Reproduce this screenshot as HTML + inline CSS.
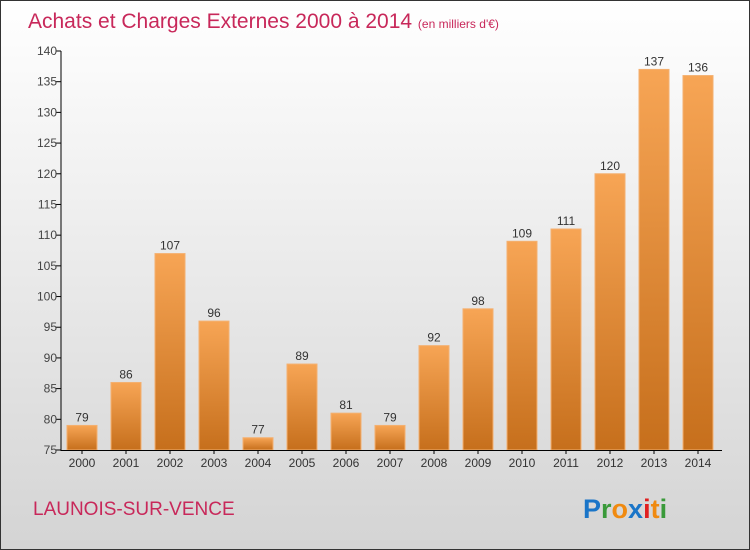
<!DOCTYPE html>
<html><head><meta charset="utf-8"><style>
body{margin:0}
#c{position:relative;width:748px;height:548px;border:1px solid #333;background:linear-gradient(#ffffff,#d4d4d4);font-family:"Liberation Sans",sans-serif;overflow:hidden}
</style></head><body>
<div id="c">
<svg width="748" height="548" id="s">
<defs><linearGradient id="g" x1="0" y1="0" x2="0" y2="1"><stop offset="0" stop-color="#f7a555"/><stop offset="1" stop-color="#c66f1c"/></linearGradient></defs>
<text x="27" y="27" font-size="21" fill="#c8285a">Achats et Charges Externes 2000 à 2014 <tspan font-size="12">  (en milliers d'€)</tspan></text>
<text x="32" y="514" font-size="19" fill="#c8285a">LAUNOIS-SUR-VENCE</text>
<text x="582" y="517" font-size="27" font-weight="bold"><tspan fill="#1a75c8">P</tspan><tspan fill="#3a9a3a">r</tspan><tspan fill="#f08a10">o</tspan><tspan fill="#1a75c8">x</tspan><tspan fill="#e02020">i</tspan><tspan fill="#f08a10">t</tspan><tspan fill="#3a9a3a">i</tspan></text>
</svg>
</div>
<script>
const years=["2000","2001","2002","2003","2004","2005","2006","2007","2008","2009","2010","2011","2012","2013","2014"];
const values=[79,86,107,96,77,89,81,79,92,98,109,111,120,137,136];
const yTicks=[75,80,85,90,95,100,105,110,115,120,125,130,135,140];
const s=document.getElementById('s');const NS='http://www.w3.org/2000/svg';
const y=v=>449-(v-75)*(399/65);
const x=i=>81+i*44;
function mk(t,a,p){const e=document.createElementNS(NS,t);for(const k in a)e.setAttribute(k,a[k]);(p||s).appendChild(e);return e;}
yTicks.forEach(t=>{
mk('line',{x1:55,x2:60,y1:y(t),y2:y(t),stroke:'#000'});
const tx=mk('text',{x:56,y:y(t)+4,'text-anchor':'end','font-size':12,fill:'#444'});tx.textContent=t;


});
values.forEach((v,i)=>{
const r=mk('rect',{x:x(i)-15,y:y(v),width:30,height:449-y(v),fill:'url(#g)',stroke:'#f4b070','stroke-width':1});


const l=mk('text',{x:x(i),y:y(v)-4,'text-anchor':'middle','font-size':12,fill:'#333'});l.textContent=v;


const xl=mk('text',{x:x(i),y:466,'text-anchor':'middle','font-size':12,fill:'#333'});xl.textContent=years[i];


mk('line',{x1:x(i),x2:x(i),y1:449,y2:453,stroke:'#000'});
});
const ax=mk('line',{x1:60,x2:60,y1:y(140),y2:450,stroke:'#000'});


const bx=mk('line',{x1:60,x2:721,y1:449.5,y2:449.5,stroke:'#000'});


</script>
</body></html>
